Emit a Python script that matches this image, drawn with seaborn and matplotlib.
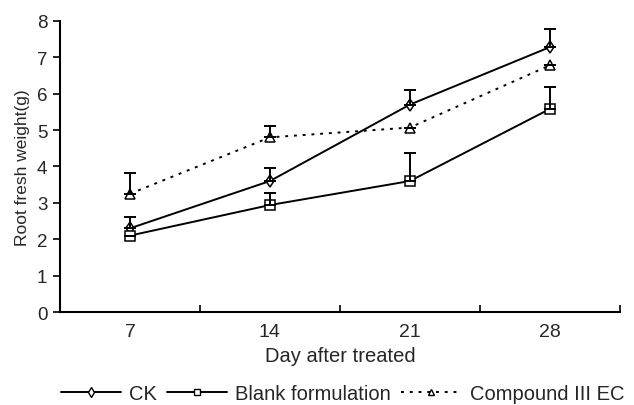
import numpy as np
import pandas as pd
import matplotlib
matplotlib.use("Agg")
import matplotlib.pyplot as plt
import seaborn as sns
from matplotlib.lines import Line2D

days = ["7", "14", "21", "28"]
ck = [2.3, 3.6, 5.7, 7.28]
ck_err = [0.3, 0.36, 0.4, 0.5]
blank = [2.1, 2.94, 3.6, 5.58]
blank_err = [0.0, 0.33, 0.77, 0.6]
compound = [3.25, 4.8, 5.07, 6.78]
compound_err = [0.58, 0.3, 0.0, 0.0]
series_names = ["CK", "Blank formulation", "Compound III EC"]

sns.set_style("white")
plt.rcParams['font.family'] = ['Liberation Sans', 'DejaVu Sans']

pos = np.arange(len(days))
df = pd.DataFrame({
    "x": np.tile(pos, 3),
    "y": ck + blank + compound,
    "series": np.repeat(series_names, len(days)),
})

fig = plt.figure(figsize=(6.34, 4.06), dpi=100)
ax = fig.add_axes([0.0946, 0.229, 0.883, 0.717])

markers = {"CK": "d", "Blank formulation": "s", "Compound III EC": "^"}
dashes = {"CK": "", "Blank formulation": "", "Compound III EC": (1.5, 3)}
sns.lineplot(data=df, x="x", y="y", hue="series", style="series",
             markers=markers, dashes=dashes,
             palette={n: "black" for n in series_names},
             markerfacecolor="white", markeredgecolor="black", markersize=6.5,
             markeredgewidth=1.1, linewidth=1.4, ax=ax, legend=False)

for vals, errs in [(ck, ck_err), (blank, blank_err), (compound, compound_err)]:
    ax.errorbar(pos, vals, yerr=[np.zeros(len(vals)), errs], fmt="none",
                ecolor="black", elinewidth=1.4, capsize=4, capthick=1.4)

ax.set_xlim(-0.5, 3.5)
ax.set_ylim(0, 8)
ax.set_xticks(pos)
ax.set_xticklabels(days, fontsize=14)
ax.set_xticks(np.arange(-0.5, 4.0, 1.0), minor=True)
ax.tick_params(axis="x", which="major", length=0, pad=8)
ax.tick_params(axis="x", which="minor", direction="in", length=5, width=1.2, color="black")
ax.set_yticks(range(0, 9))
ax.tick_params(axis="y", which="major", direction="out", length=5, width=1.2,
               color="black", labelsize=13.5, pad=4)
ax.yaxis.set_ticks_position("left")
ax.xaxis.set_ticks_position("bottom")
for s in ["top", "right"]:
    ax.spines[s].set_visible(False)
for s in ["left", "bottom"]:
    ax.spines[s].set_color("black")
    ax.spines[s].set_linewidth(1.5)

ax.set_xlabel("Day after treated", fontsize=14.5, labelpad=4)
ax.set_ylabel("Root fresh weight(g)", fontsize=12.5, labelpad=5)

handles = [
    Line2D([], [], color="black", lw=1.4, marker="d", markersize=5,
           markerfacecolor="white", markeredgecolor="black"),
    Line2D([], [], color="black", lw=1.4, marker="s", markersize=5,
           markerfacecolor="white", markeredgecolor="black"),
    Line2D([], [], color="black", lw=1.4, ls=(0, (1.5, 3)), marker="^", markersize=5,
           markerfacecolor="white", markeredgecolor="black"),
]
fig.legend(handles, series_names, loc="center", bbox_to_anchor=(0.54, 0.028),
           ncol=3, frameon=False, fontsize=14.5, handlelength=3.0,
           columnspacing=0.5, handletextpad=0.4, borderpad=0, borderaxespad=0)

fig.savefig("out.png", dpi=100)
